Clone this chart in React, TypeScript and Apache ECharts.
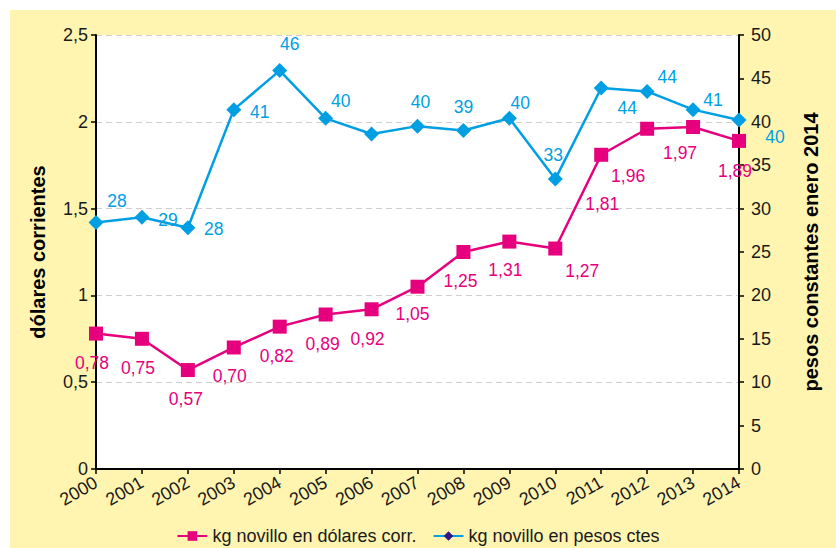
import React, { useEffect, useRef } from "react";
import * as echarts from "echarts";

const years = ["2000","2001","2002","2003","2004","2005","2006","2007","2008","2009","2010","2011","2012","2013","2014"];
const dolaresCorr = [0.78,0.75,0.57,0.70,0.82,0.89,0.92,1.05,1.25,1.31,1.27,1.81,1.96,1.97,1.89];
const pesosCtes = [28.4,29.0,27.8,41.4,45.9,40.4,38.6,39.5,39.0,40.4,33.4,43.9,43.5,41.4,40.2];
const pesosLabelShown = [true,true,true,true,true,true,false,true,true,true,true,true,true,true,true];
const leftTicks = { min: 0, max: 2.5, interval: 0.5 };
const rightTicks = { min: 0, max: 50, interval: 5 };

// label offsets (dx, dy) relative to each marker
const pinkOffsets = [[-4,29],[-4,29],[-2,29],[-4,29],[-3,29],[-3,30],[-4,30],[-5,27],[-3,29],[-4,28],[27,22],[1,49],[-19,47],[-13,26],[-4,30]];
const blueOffsets = [[21,-21],[26,3],[26,1],[26,2],[10,-27],[15,-17],[0,-24],[3,-24],[0,-23],[11,-15],[-2,-24],[26,20],[20,-14],[20,-10],[36,17]];

const PINK = "#E6007E";
const BLUE = "#009FE3";
const NAVY = "#2E1A86";
const YELLOW = "#FFF5B1";
const REG = "'Liberation Sans', Arial, sans-serif";

export default function App() {
  const ref = useRef<HTMLDivElement>(null);
  useEffect(() => {
    if (!ref.current) return;
    const chart = echarts.init(ref.current, null, { renderer: "svg" });
    const comma = (v: number, d: number) => v.toFixed(d).replace(".", ",");
    chart.setOption({
      animation: false,
      backgroundColor: "#ffffff",
      graphic: [
        { type: "rect", z: -10, silent: true, shape: { x: 10, y: 10, width: 826, height: 538 }, style: { fill: YELLOW } },
      ],
      grid: { left: 96, right: 97, top: 35, bottom: 79, show: true, backgroundColor: "#ffffff", borderWidth: 0 },
      legend: {
        top: 522,
        left: "center",
        itemWidth: 30,
        itemHeight: 12,
        itemGap: 16,
        textStyle: { fontFamily: REG, fontSize: 18, color: "#1a1a1a" },
        data: [
          { name: "kg novillo en dólares corr." },
          { name: "kg novillo en pesos ctes", itemStyle: { color: NAVY } },
        ],
      },
      xAxis: {
        type: "category",
        data: years,
        boundaryGap: false,
        axisLine: { lineStyle: { color: "#000", width: 2 } },
        axisTick: { show: true, length: 5, interval: 0, lineStyle: { color: "#000", width: 1.5 } },
        axisLabel: { interval: 0, rotate: 30, fontSize: 18, fontFamily: REG, color: "#1a1a1a", margin: 12 },
      },
      yAxis: [
        {
          type: "value",
          ...leftTicks,
          position: "left",
          name: "dólares corrientes",
          nameLocation: "middle",
          nameRotate: 90,
          nameGap: 48,
          nameTextStyle: { fontFamily: REG, fontWeight: "bold", fontSize: 20, color: "#000" },
          axisLine: { show: true, lineStyle: { color: "#000", width: 2 } },
          axisTick: { show: true, length: 5, lineStyle: { color: "#000", width: 1.5 } },
          axisLabel: { fontFamily: REG, fontSize: 18, color: "#1a1a1a", margin: 8, formatter: (v: number) => String(v).replace(".", ",") },
          splitLine: { show: true, lineStyle: { color: "#cfcfcf", type: [6, 4], width: 1 } },
        },
        {
          type: "value",
          ...rightTicks,
          position: "right",
          name: "pesos constantes enero 2014",
          nameLocation: "middle",
          nameRotate: 90,
          nameGap: 62,
          nameTextStyle: { fontFamily: REG, fontWeight: "bold", fontSize: 20, color: "#000" },
          axisLine: { show: true, lineStyle: { color: "#000", width: 2 } },
          axisTick: { show: true, length: 5, lineStyle: { color: "#000", width: 1.5 } },
          axisLabel: { fontFamily: REG, fontSize: 18, color: "#1a1a1a", margin: 12 },
          splitLine: { show: false },
        },
      ],
      series: [
        {
          name: "kg novillo en dólares corr.",
          type: "line",
          yAxisIndex: 0,
          symbol: "rect",
          symbolSize: 14,
          lineStyle: { color: PINK, width: 2.5 },
          itemStyle: { color: PINK },
          z: 3,
          data: dolaresCorr.map((v, i) => ({
            value: v,
            label: { show: true, position: "inside", offset: pinkOffsets[i], formatter: () => comma(v, 2), color: PINK, fontFamily: REG, fontSize: 17.5 },
          })),
        },
        {
          name: "kg novillo en pesos ctes",
          type: "line",
          yAxisIndex: 1,
          symbol: "diamond",
          symbolSize: 15,
          lineStyle: { color: BLUE, width: 2.5 },
          itemStyle: { color: BLUE },
          z: 2,
          data: pesosCtes.map((v, i) => ({
            value: v,
            label: { show: pesosLabelShown[i], position: "inside", offset: blueOffsets[i], formatter: () => String(Math.round(v)), color: BLUE, fontFamily: REG, fontSize: 17.5 },
          })),
        },
      ],
    });
    return () => chart.dispose();
  }, []);
  return (
    <div style={{ position: "fixed", left: 0, top: 0, width: 836, height: 548 }}>
      <div ref={ref} style={{ width: 836, height: 548 }} />
    </div>
  );
}
